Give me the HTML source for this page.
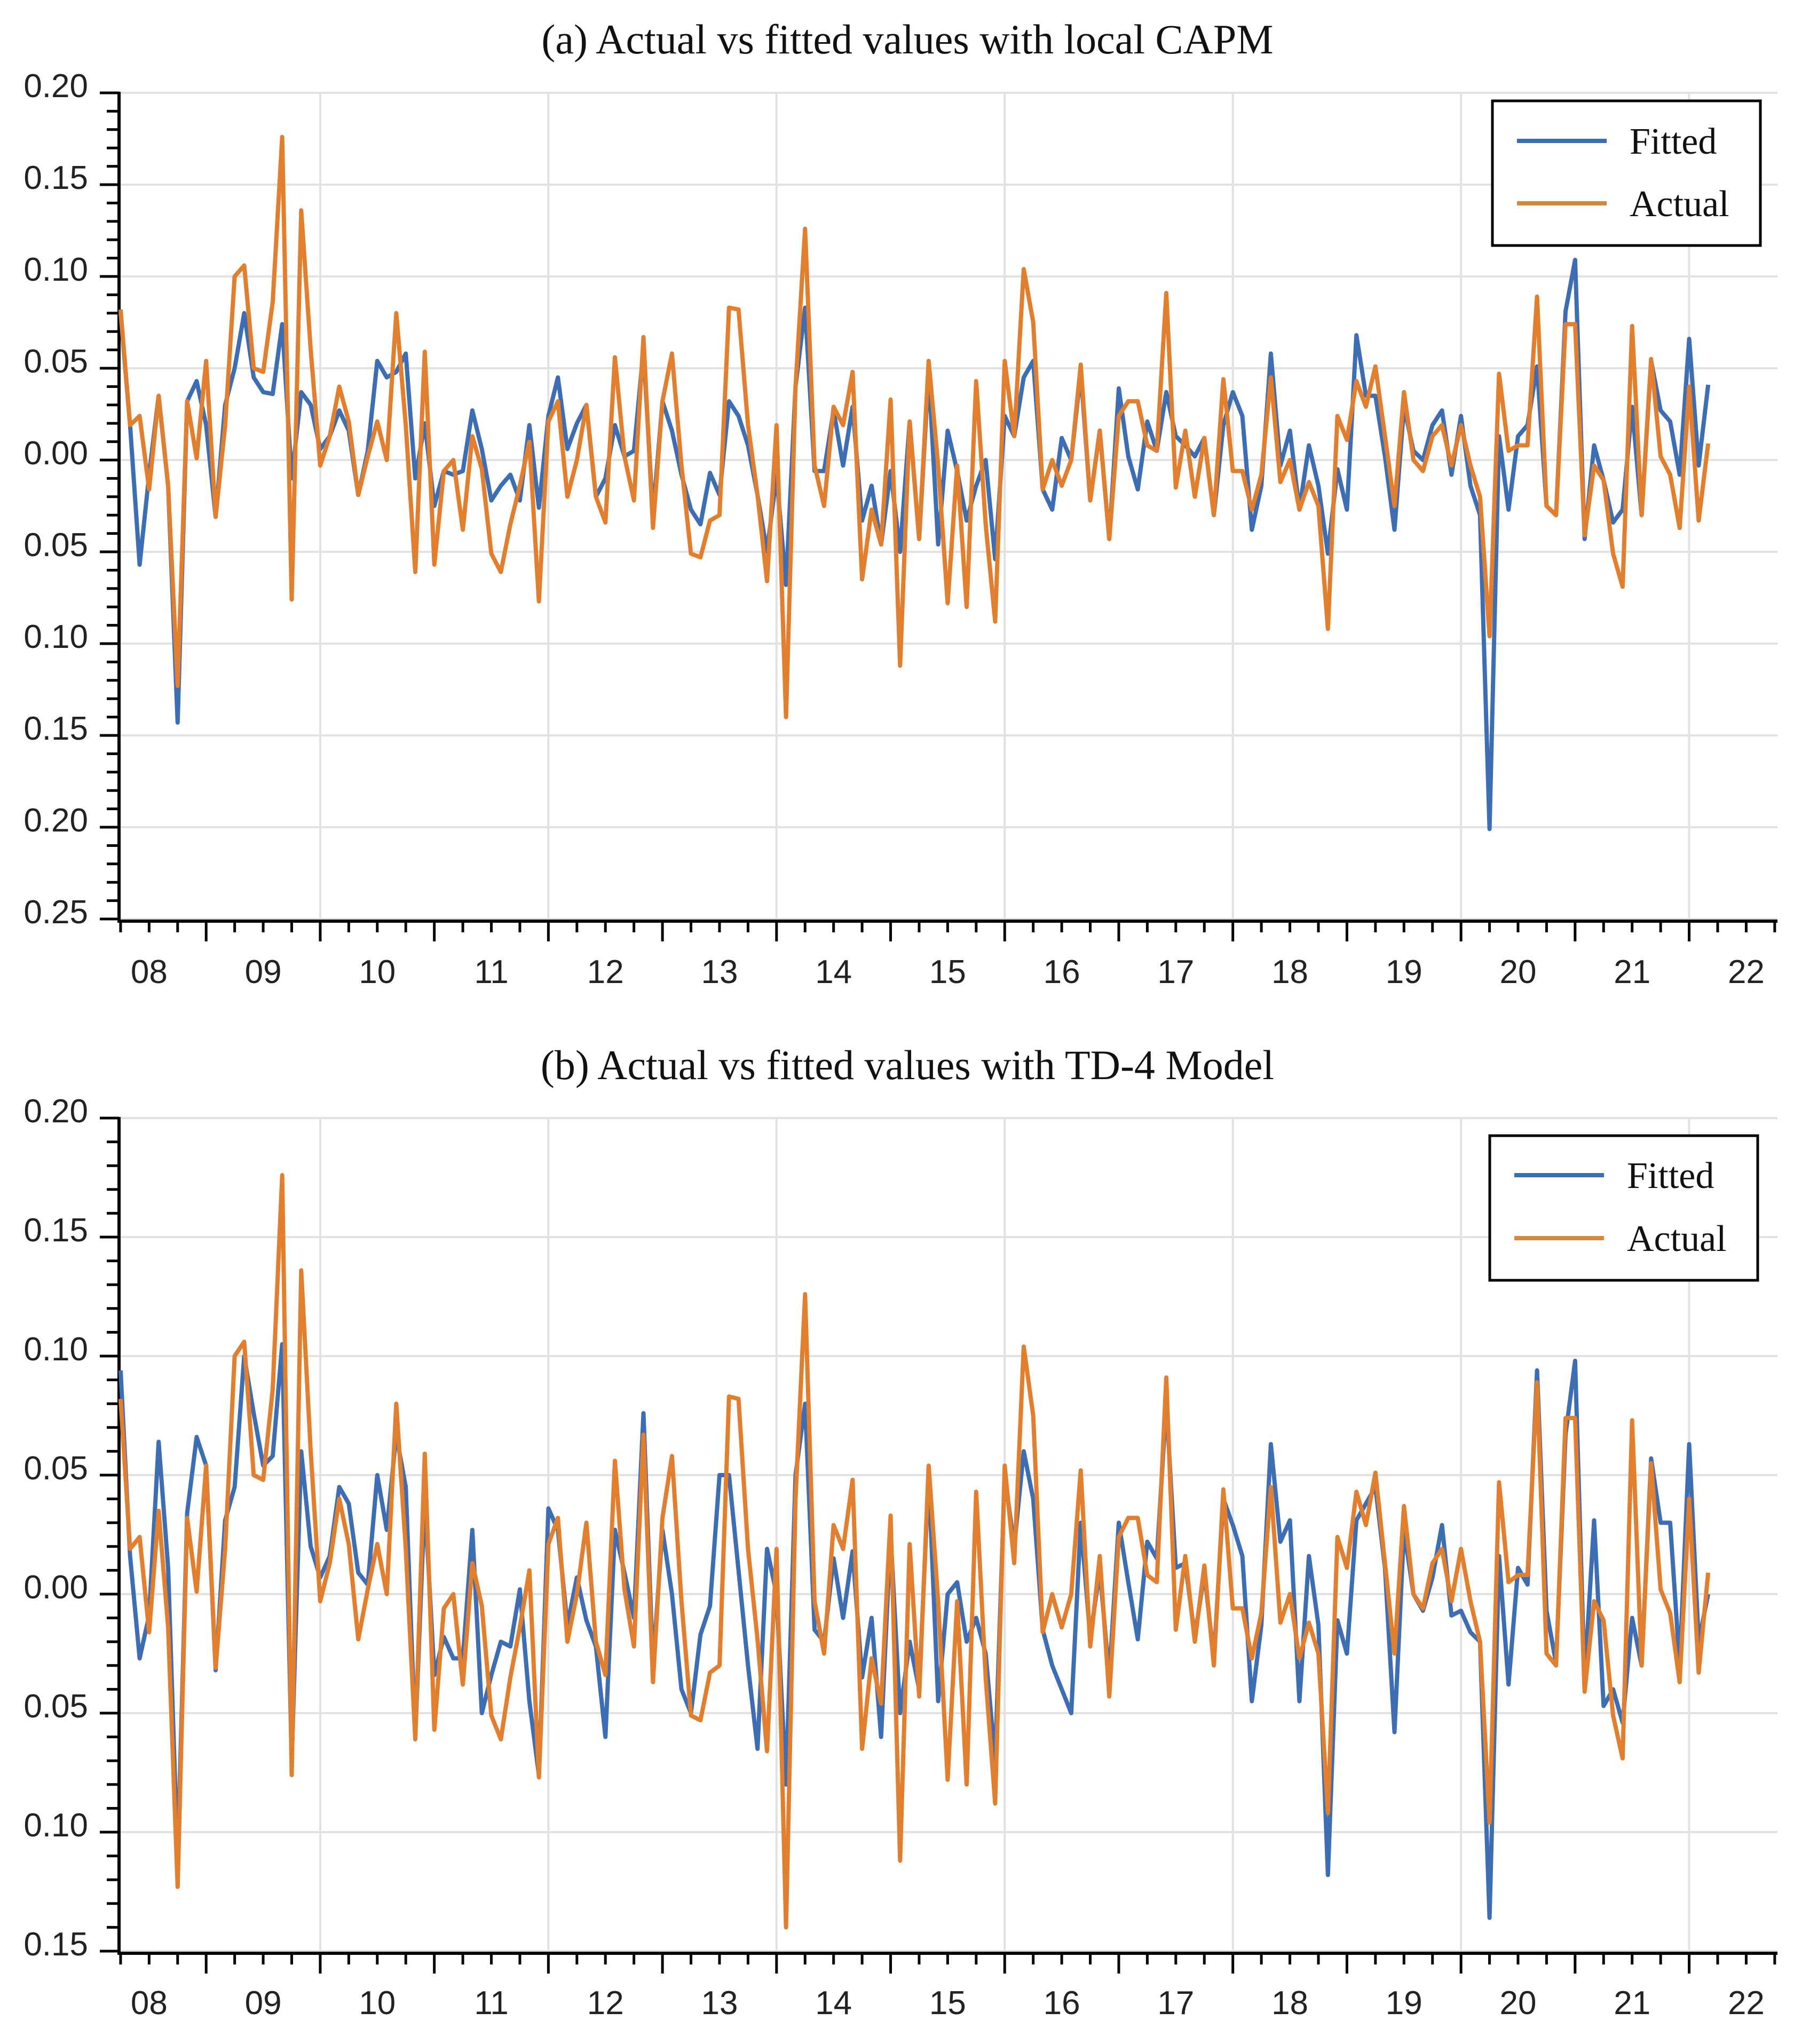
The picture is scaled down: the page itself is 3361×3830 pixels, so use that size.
<!DOCTYPE html>
<html><head><meta charset="utf-8"><title>Actual vs fitted values</title>
<style>
html,body{margin:0;padding:0;background:#fff;}
svg{display:block;}
</style></head>
<body>
<svg id="chart" width="3361" height="3830" viewBox="0 0 3361 3830" xmlns="http://www.w3.org/2000/svg"></svg>
<script>
// ---- data (monthly, Apr 2008 .. Mar 2022) ----
const startMonth = 3; // months after Jan 2008
const actual = [0.082,0.019,0.024,-0.016,0.035,-0.014,-0.123,0.032,0.001,0.054,-0.031,0.019,0.100,0.106,0.050,0.048,0.086,0.176,-0.076,0.136,0.060,-0.003,0.013,0.040,0.021,-0.019,0.002,0.021,0.000,0.080,0.019,-0.061,0.059,-0.057,-0.006,0.000,-0.038,0.013,-0.005,-0.051,-0.061,-0.035,-0.014,0.010,-0.077,0.021,0.032,-0.020,0.000,0.030,-0.020,-0.034,0.056,0.002,-0.022,0.067,-0.037,0.032,0.058,-0.003,-0.051,-0.053,-0.033,-0.030,0.083,0.082,0.019,-0.019,-0.066,0.019,-0.140,0.040,0.126,-0.003,-0.025,0.029,0.019,0.048,-0.065,-0.027,-0.046,0.033,-0.112,0.021,-0.043,0.054,-0.003,-0.078,-0.003,-0.080,0.043,-0.035,-0.088,0.054,0.013,0.104,0.075,-0.016,0.000,-0.014,0.000,0.052,-0.022,0.016,-0.043,0.024,0.032,0.032,0.008,0.005,0.091,-0.015,0.016,-0.020,0.012,-0.030,0.044,-0.006,-0.006,-0.027,-0.008,0.045,-0.012,0.000,-0.027,-0.012,-0.025,-0.092,0.024,0.011,0.043,0.029,0.051,0.013,-0.025,0.037,0.000,-0.006,0.013,0.019,-0.003,0.019,-0.003,-0.020,-0.096,0.047,0.005,0.008,0.008,0.089,-0.025,-0.030,0.074,0.074,-0.041,-0.003,-0.011,-0.051,-0.069,0.073,-0.030,0.055,0.002,-0.008,-0.037,0.040,-0.033,0.009];
const fittedCapm = [0.080,0.019,-0.057,-0.008,0.035,-0.014,-0.143,0.032,0.043,0.019,-0.031,0.030,0.050,0.080,0.045,0.037,0.036,0.074,-0.010,0.037,0.030,0.006,0.013,0.027,0.016,-0.019,0.005,0.054,0.045,0.048,0.058,-0.010,0.020,-0.025,-0.006,-0.008,-0.006,0.027,0.006,-0.022,-0.014,-0.008,-0.022,0.019,-0.026,0.024,0.045,0.006,0.020,0.030,-0.020,-0.010,0.019,0.002,0.005,0.060,-0.030,0.032,0.016,-0.008,-0.027,-0.035,-0.007,-0.019,0.032,0.024,0.008,-0.019,-0.050,-0.008,-0.068,0.040,0.083,-0.006,-0.006,0.027,-0.003,0.029,-0.033,-0.014,-0.046,-0.006,-0.050,0.021,-0.043,0.048,-0.046,0.016,-0.006,-0.033,-0.014,0.000,-0.054,0.024,0.013,0.045,0.054,-0.016,-0.027,0.012,0.000,0.048,-0.022,0.016,-0.043,0.039,0.002,-0.016,0.021,0.005,0.037,0.013,0.008,0.002,0.012,-0.030,0.019,0.037,0.024,-0.038,-0.014,0.058,-0.003,0.016,-0.027,0.008,-0.014,-0.051,-0.005,-0.027,0.068,0.035,0.035,0.002,-0.038,0.029,0.005,0.000,0.019,0.027,-0.008,0.024,-0.014,-0.030,-0.201,0.013,-0.027,0.013,0.019,0.051,-0.025,-0.030,0.081,0.109,-0.043,0.008,-0.011,-0.034,-0.027,0.029,-0.030,0.054,0.027,0.021,-0.008,0.066,-0.003,0.041];
const fittedTd4 = [0.094,0.016,-0.027,-0.009,0.064,0.011,-0.112,0.034,0.066,0.054,-0.032,0.031,0.045,0.100,0.076,0.054,0.058,0.105,-0.070,0.060,0.020,0.007,0.016,0.045,0.038,0.009,0.004,0.050,0.027,0.067,0.045,-0.060,0.040,-0.034,-0.018,-0.027,-0.027,0.027,-0.050,-0.034,-0.020,-0.022,0.002,-0.045,-0.076,0.036,0.027,-0.013,0.007,-0.011,-0.022,-0.060,0.027,0.009,-0.010,0.076,-0.030,0.027,0.000,-0.040,-0.050,-0.017,-0.005,0.050,0.050,0.010,-0.030,-0.065,0.019,0.000,-0.080,0.050,0.080,-0.015,-0.020,0.015,-0.010,0.018,-0.035,-0.010,-0.060,0.025,-0.050,-0.020,-0.040,0.050,-0.045,0.000,0.005,-0.020,-0.010,-0.025,-0.070,0.050,0.020,0.060,0.040,-0.015,-0.030,-0.040,-0.050,0.030,-0.018,0.010,-0.035,0.030,0.005,-0.019,0.022,0.015,0.080,0.011,0.013,-0.018,0.009,-0.027,0.040,0.029,0.016,-0.045,-0.013,0.063,0.022,0.031,-0.045,0.016,-0.013,-0.118,-0.011,-0.025,0.031,0.038,0.045,0.011,-0.058,0.027,0.000,-0.007,0.007,0.029,-0.009,-0.007,-0.016,-0.020,-0.136,0.016,-0.038,0.011,0.004,0.094,-0.007,-0.029,0.067,0.098,-0.036,0.031,-0.047,-0.040,-0.054,-0.010,-0.030,0.057,0.030,0.030,-0.030,0.063,-0.020,0.000];
const yearLabels = ["08","09","10","11","12","13","14","15","16","17","18","19","20","21","22"];
const yTicksA = [0.20,0.15,0.10,0.05,0.00,-0.05,-0.10,-0.15,-0.20,-0.25];
const yTicksB = [0.20,0.15,0.10,0.05,0.00,-0.05,-0.10,-0.15];
const titleA = "(a) Actual vs fitted values with local CAPM";
const titleB = "(b) Actual vs fitted values with TD-4 Model";

const NS = "http://www.w3.org/2000/svg";
const svg = document.getElementById('chart');
const AX_L = 223, AX_R = 3330;
const xOf = m => 172.5 + 17.81 * m;
function mk(tag, attrs, parent){
  const e = document.createElementNS(NS, tag);
  for (const k in attrs) e.setAttribute(k, attrs[k]);
  (parent||svg).appendChild(e);
  return e;
}
function lbl(v){ return Math.abs(v).toFixed(2); }

function panel(cfg){
  const g = mk('g', {});
  
  
  const yOf = v => cfg.zeroY - v * cfg.scale;
  const top = yOf(cfg.ticks[0]), bottom = yOf(cfg.ticks[cfg.ticks.length-1]);
  const axisY = bottom + 4;
  const t = mk('text', {x:1700, y:cfg.titleY, 'text-anchor':'middle', 'font-family':'"Liberation Serif", serif', 'font-size':78, fill:'#111'}, g);
  t.textContent = cfg.title;
  
  
  cfg.ticks.forEach(v => {
    const y = yOf(v);
    const gl = mk('line', {x1:AX_L, x2:AX_R, y1:y, y2:y, stroke:'#e2e2e2', 'stroke-width':4}, g);
    
    
    const tx = mk('text', {x:165, y:y+8, 'text-anchor':'end', 'font-family':'"Liberation Sans", sans-serif', 'font-size':62, fill:'#222'}, g);
    tx.textContent = lbl(v);
    
    
  });
  const vMax = cfg.ticks[0], vMin = cfg.ticks[cfg.ticks.length-1];
  for (let i = 0; i <= Math.round((vMax - vMin) * 100); i++){
    const v = vMax - i * 0.01;
    const major = i % 5 === 0;
    mk('line', {x1:AX_L - (major ? 36 : 23), x2:AX_L, y1:yOf(v), y2:yOf(v), stroke:'#000', 'stroke-width':5}, g);
  }
  for (let yr = 2010; yr <= 2022; yr += 2){
    const x = xOf((yr - 2008) * 12);
    const vl = mk('line', {x1:x, x2:x, y1:top, y2:axisY, stroke:'#e2e2e2', 'stroke-width':4}, g);
    
    
  }
  for (let m = 3; xOf(m) <= AX_R + 1; m += 3){
    const long = m % 12 === 0;
    mk('line', {x1:xOf(m), x2:xOf(m), y1:axisY, y2:axisY + (long ? 38 : 21), stroke:'#000', 'stroke-width':5}, g);
  }
  yearLabels.forEach((s, i) => {
    const tx = mk('text', {x:xOf(i*12 + 6), y:axisY + cfg.labelOff, 'text-anchor':'middle', 'font-family':'"Liberation Sans", sans-serif', 'font-size':62, fill:'#222'}, g);
    tx.textContent = s;
    
    
  });
  const ya = mk('line', {x1:AX_L, x2:AX_L, y1:top - 2, y2:axisY + 2, stroke:'#000', 'stroke-width':6}, g);
  
  
  const xa = mk('line', {x1:AX_L - 3, x2:AX_R, y1:axisY, y2:axisY, stroke:'#000', 'stroke-width':6}, g);
  
  
  function series(vals, color, name){
    const pts = vals.map((v, i) => xOf(startMonth + i).toFixed(1) + ',' + yOf(v).toFixed(1)).join(' ');
    const pl = mk('polyline', {points:pts, fill:'none', stroke:color, 'stroke-width':8, 'stroke-linejoin':'round'}, g);
    
    
  }
  series(cfg.fitted, '#3d6db3', 'fitted-line');
  series(actual, '#e17f2e', 'actual-line');
  const L = cfg.legend;
  const lg = mk('g', {}, g);
  
  
  mk('rect', {x:L.x, y:L.y, width:L.w, height:L.h, fill:'#fff', stroke:'#000', 'stroke-width':5}, lg);
  [['Fitted', '#3d6db3', L.y1], ['Actual', '#d9863e', L.y2]].forEach(([txt, col, ly]) => {
    const e = mk('g', {}, lg);
    
    
    mk('line', {x1:L.x + 46, x2:L.x + 214, y1:ly, y2:ly, stroke:col, 'stroke-width':8}, e);
    const tx = mk('text', {x:L.x + 257, y:ly + 24, 'font-family':'"Liberation Serif", serif', 'font-size':70, fill:'#111'}, e);
    tx.textContent = txt;
  });
}

panel({name:'panel-a-local-capm', title:titleA, titleY:100, zeroY:862, scale:3440, ticks:yTicksA, labelOff:116, fitted:fittedCapm,
  legend:{x:2796, y:189, w:502, h:271, y1:264, y2:381}});
panel({name:'panel-b-td4-model', title:titleB, titleY:2022, zeroY:2987, scale:4460, ticks:yTicksB, labelOff:114, fitted:fittedTd4,
  legend:{x:2791, y:2128, w:502, h:271, y1:2202, y2:2320}});
</script>
</body></html>
